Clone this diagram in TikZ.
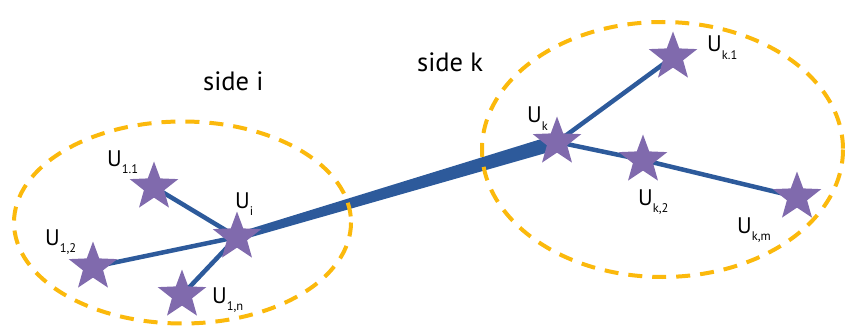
\documentclass[tikz,border=0pt]{standalone}
\usepackage{fontspec}
\setmainfont{PT Sans}
\usetikzlibrary{shapes.geometric,calc,backgrounds}

\definecolor{linkblue}{HTML}{2D5A9B}
\definecolor{starpurple}{HTML}{806AAD}
\definecolor{ringgold}{HTML}{FBB90C}

% U with a deep, small subscript
\newcommand{\usub}[1]{U\raisebox{-7.5pt}{\fontsize{12.5}{14}\selectfont #1}}

\tikzset{
  ustar/.style={star, star points=5, star point ratio=2.4, fill=starpurple,
    minimum size=51pt, inner sep=0pt},
  ulabel/.style={anchor=base west, inner sep=0pt, font=\fontsize{22.5}{26}\selectfont},
  sidelabel/.style={anchor=base west, inner sep=0pt, font=\fontsize{26.5}{30}\selectfont},
  sidering/.style={draw=ringgold, line width=4pt, dash pattern=on 14pt off 10pt},
  spoke/.style={draw=linkblue, line width=4.5pt}
}

\begin{document}
\begin{tikzpicture}[x=1pt, y=-1pt]

  %% ==== side rings ====
  \draw[sidering] (182.5,222.5) ellipse [x radius=168.5, y radius=101];
  \draw[sidering] (662.5,149.5) ellipse [x radius=180.5, y radius=127.5];

  %% ==== stars ====
  \node[ustar] (ui)  at (237,237) {};
  \node[ustar] (u11) at (154,187) {};
  \node[ustar] (u12) at (93,267)  {};
  \node[ustar] (u1n) at (182,295) {};
  \node[ustar] (uk)  at (557,142) {};
  \node[ustar] (uk1) at (673,57)  {};
  \node[ustar] (uk2) at (643,160) {};
  \node[ustar] (ukm) at (797,197) {};

  %% ==== links (behind the stars) ====
  \begin{scope}[on background layer]
    \draw[spoke] (u11.center) -- (ui.center);
    \draw[spoke] (u12.center) -- (ui.center);
    \draw[spoke] (u1n.center) -- (ui.center);
    \draw[spoke] (uk.center) -- (uk1.center);
    \draw[spoke] (uk.center) -- (uk2.center) -- (ukm.center);
    % tapered trunk between the two sides
    \fill[linkblue] ($(ui.center)!4pt!90:(uk.center)$) -- ($(uk.center)!7.5pt!-90:(ui.center)$)
      -- ($(uk.center)!7.5pt!90:(ui.center)$) -- ($(ui.center)!4pt!-90:(uk.center)$) -- cycle;
  \end{scope}

  %% ==== labels ====
  \node[sidelabel] (lsi)  at (203,91)  {side i};
  \node[sidelabel] (lsk)  at (417,72)  {side k};
  \node[ulabel] (lu11) at (107,166) {\usub{1.1}};
  \node[ulabel] (lui)  at (235,208) {\usub{i}};
  \node[ulabel] (lu12) at (45,245)  {\usub{1,2}};
  \node[ulabel] (lu1n) at (212,303) {\usub{1,n}};
  \node[ulabel] (luk)  at (527,123) {\usub{k}};
  \node[ulabel] (luk1) at (707,52)  {\usub{k.1}};
  \node[ulabel] (luk2) at (638,205) {\usub{k,2}};
  \node[ulabel] (lukm) at (737,233) {\usub{k,m}};

  \pgfresetboundingbox
  \path[use as bounding box] (0,0) rectangle (846,326);
\end{tikzpicture}
\end{document}
